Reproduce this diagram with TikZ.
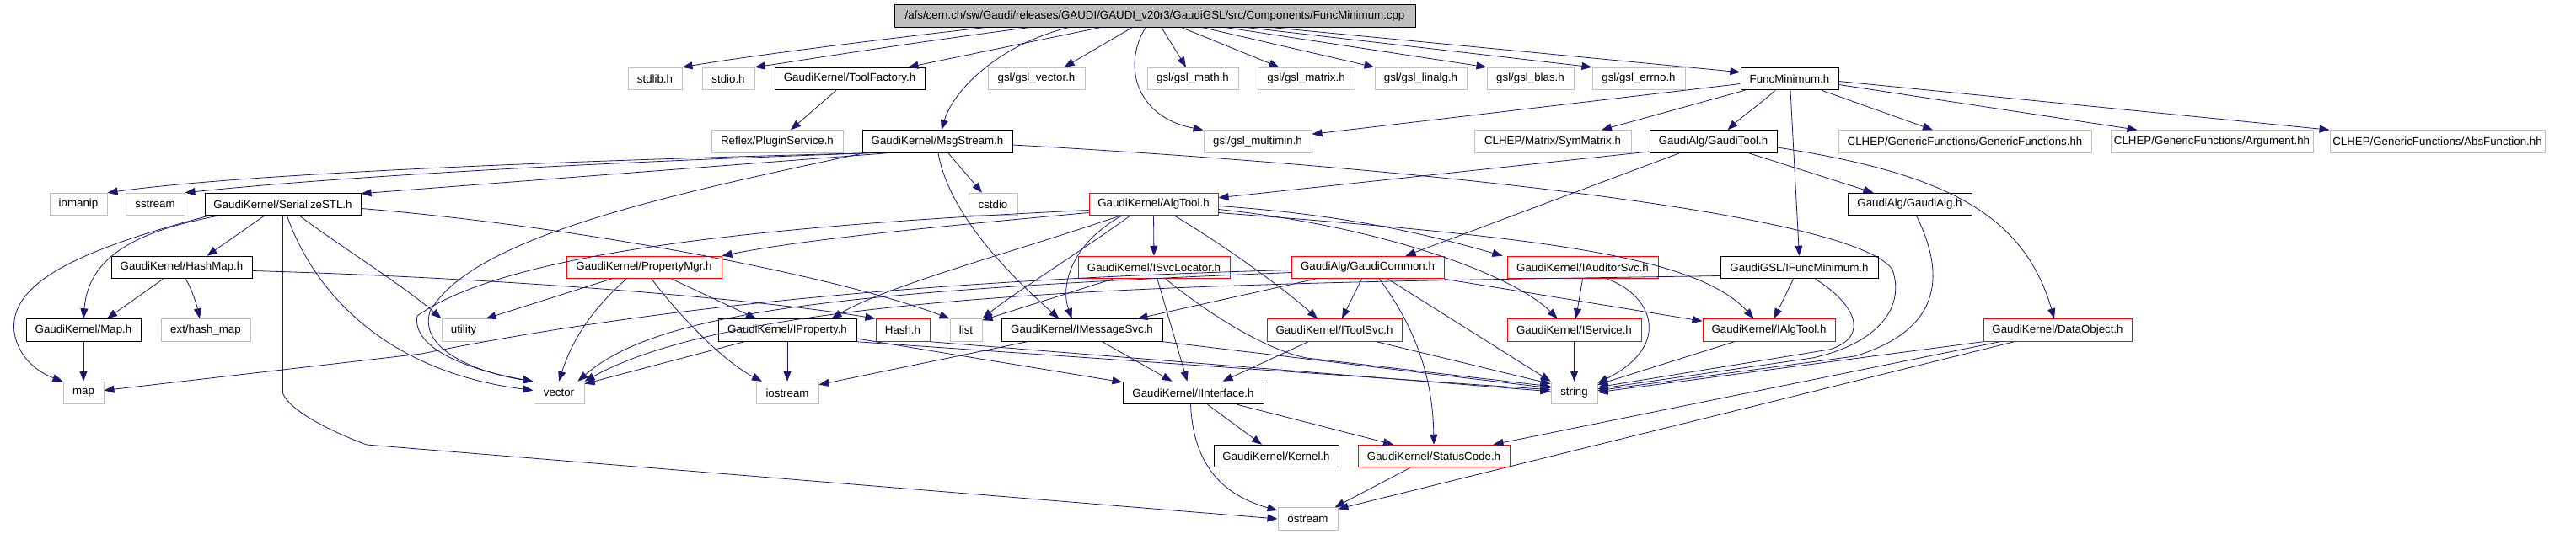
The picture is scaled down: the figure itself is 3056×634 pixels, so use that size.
\documentclass[tikz,border=0pt]{standalone}
\usepackage{fontspec}
\setmainfont{Liberation Sans}
\usetikzlibrary{arrows.meta}
\definecolor{edgec}{HTML}{191970}
\definecolor{grayb}{HTML}{BFBFBF}
\tikzset{
 nbase/.style={rectangle, inner sep=0pt, minimum height=26.5pt, line width=1pt, font=\fontsize{13.3}{16}\selectfont, text=black},
 gbox/.style={nbase, draw=grayb},
 bbox/.style={nbase, draw=black},
 rbox/.style={nbase, draw=red},
 rootbox/.style={nbase, draw=black, fill=grayb},
 dep/.style={draw=edgec, line width=0.8pt, -{Triangle[length=12pt,width=9pt]}},
}
\begin{document}
\begin{tikzpicture}[x=1pt,y=-1pt]
\useasboundingbox (0,0) rectangle (3056,634);
% row 0
\node[rootbox,minimum width=618pt] (root) at (1370,19) {/afs/cern.ch/sw/Gaudi/releases/GAUDI/GAUDI\_v20r3/GaudiGSL/src/Components/FuncMinimum.cpp};
% row 1
\node[gbox,minimum width=64pt] (stdlib) at (777,93.5) {stdlib.h};
\node[gbox,minimum width=62pt] (stdio) at (864,93.5) {stdio.h};
\node[bbox,minimum width=178pt] (toolf) at (1008,93.5) {GaudiKernel/ToolFactory.h};
\node[gbox,minimum width=115pt] (gvec) at (1229.5,93.5) {gsl/gsl\_vector.h};
\node[gbox,minimum width=108pt] (gmath) at (1415,93.5) {gsl/gsl\_math.h};
\node[gbox,minimum width=115pt] (gmatrix) at (1549.5,93.5) {gsl/gsl\_matrix.h};
\node[gbox,minimum width=109pt] (glinalg) at (1685.5,93.5) {gsl/gsl\_linalg.h};
\node[gbox,minimum width=103pt] (gblas) at (1815.5,93.5) {gsl/gsl\_blas.h};
\node[gbox,minimum width=110pt] (gerrno) at (1944,93.5) {gsl/gsl\_errno.h};
\node[bbox,minimum width=116pt] (fminh) at (2123,93.5) {FuncMinimum.h};
% row 2
\node[gbox,minimum width=156pt] (plugin) at (922,168) {Reflex/PluginService.h};
\node[bbox,minimum width=178pt] (msgs) at (1112,168) {GaudiKernel/MsgStream.h};
\node[gbox,minimum width=128pt] (gmulti) at (1492,168) {gsl/gsl\_multimin.h};
\node[gbox,minimum width=186pt] (symm) at (1842,168) {CLHEP/Matrix/SymMatrix.h};
\node[bbox,minimum width=151pt] (gtool) at (2032.5,168) {GaudiAlg/GaudiTool.h};
\node[gbox,minimum width=300pt] (genf) at (2331,168) {CLHEP/GenericFunctions/GenericFunctions.hh};
\node[gbox,minimum width=240pt] (argu) at (2624,168) {CLHEP/GenericFunctions/Argument.hh};
\node[gbox,minimum width=255pt] (absf) at (2891.5,168) {CLHEP/GenericFunctions/AbsFunction.hh};
% row 3
\node[gbox,minimum width=68pt] (iomanip) at (93,242.5) {iomanip};
\node[gbox,minimum width=70pt] (sstream) at (184,242.5) {sstream};
\node[bbox,minimum width=185pt] (sstl) at (335.5,242.5) {GaudiKernel/SerializeSTL.h};
\node[gbox,minimum width=58pt] (cstdio) at (1178,242.5) {cstdio};
\node[rbox,minimum width=153pt] (algtool) at (1368.5,242.5) {GaudiKernel/AlgTool.h};
\node[bbox,minimum width=147pt] (galg) at (2265.5,242.5) {GaudiAlg/GaudiAlg.h};
% row 4
\node[bbox,minimum width=167pt] (hashmap) at (215.5,317.5) {GaudiKernel/HashMap.h};
\node[rbox,minimum width=184pt] (propmgr) at (764,317.5) {GaudiKernel/PropertyMgr.h};
\node[rbox,minimum width=180pt] (svcloc) at (1369,317.5) {GaudiKernel/ISvcLocator.h};
\node[rbox,minimum width=181pt] (gcommon) at (1622.5,317.5) {GaudiAlg/GaudiCommon.h};
\node[rbox,minimum width=179pt] (iaud) at (1877.5,317.5) {GaudiKernel/IAuditorSvc.h};
\node[bbox,minimum width=187pt] (ifmin) at (2134.5,317.5) {GaudiGSL/IFuncMinimum.h};
% row 5
\node[bbox,minimum width=136pt] (maph) at (99,392) {GaudiKernel/Map.h};
\node[gbox,minimum width=106pt] (exthm) at (244,392) {ext/hash\_map};
\node[gbox,minimum width=52pt] (utility) at (550,392) {utility};
\node[bbox,minimum width=164pt] (iprop) at (934,392) {GaudiKernel/IProperty.h};
\node[rbox,minimum width=64pt] (hash) at (1071,392) {Hash.h};
\node[gbox,minimum width=38pt] (list) at (1146,392) {list};
\node[bbox,minimum width=191pt] (imsg) at (1283.5,392) {GaudiKernel/IMessageSvc.h};
\node[rbox,minimum width=160pt] (itool) at (1583,392) {GaudiKernel/IToolSvc.h};
\node[rbox,minimum width=159pt] (iserv) at (1867.5,392) {GaudiKernel/IService.h};
\node[rbox,minimum width=157pt] (ialg) at (2098.5,392) {GaudiKernel/IAlgTool.h};
\node[rbox,minimum width=176pt] (dobj) at (2441,392) {GaudiKernel/DataObject.h};
% row 6
\node[gbox,minimum width=48pt] (map) at (99,466.5) {map};
\node[gbox,minimum width=60pt] (vector) at (663,466.5) {vector};
\node[gbox,minimum width=74pt] (iostream) at (934,466.5) {iostream};
\node[bbox,minimum width=167pt] (iint) at (1415.5,466.5) {GaudiKernel/IInterface.h};
\node[gbox,minimum width=55pt] (string) at (1867.5,466.5) {string};
% row 7
\node[bbox,minimum width=148pt] (kernel) at (1514,541.5) {GaudiKernel/Kernel.h};
\node[rbox,minimum width=180pt] (stcode) at (1701,541.5) {GaudiKernel/StatusCode.h};
% row 8
\node[gbox,minimum width=71pt] (ostream) at (1551.5,616) {ostream};

% ---- edges from root
\draw[dep] ([xshift=-203pt]root.south) .. controls (1000,52) and (880,68) .. (stdlib.north east);
\draw[dep] ([xshift=-150pt]root.south) .. controls (1050,55) and (950,72) .. (stdio.north east);
\draw[dep] ([xshift=-65pt]root.south) -- ([xshift=-20pt]toolf.north east);
\draw[dep] ([xshift=-103pt]root.south) .. controls (1180,55) and (1130,110) .. ([xshift=5pt]msgs.north);
\draw[dep] ([xshift=-27pt]root.south) -- ([xshift=33pt]gvec.north);
\draw[dep] ([xshift=-11pt]root.south) .. controls (1330,80) and (1350,140) .. (gmulti.north west);
\draw[dep] ([xshift=8pt]root.south) -- ([xshift=-8pt]gmath.north);
\draw[dep] ([xshift=32pt]root.south) -- ([xshift=-32pt]gmatrix.north);
\draw[dep] ([xshift=57pt]root.south) -- (glinalg.north west);
\draw[dep] ([xshift=85pt]root.south) -- (gblas.north west);
\draw[dep] ([xshift=110pt]root.south) -- (gerrno.north west);
\draw[dep] ([xshift=140pt]root.south) -- ([yshift=-6pt]fminh.north west);

% ---- FuncMinimum.h
\draw[dep] ([yshift=-6pt]fminh.west) -- ([yshift=-5pt]gmulti.north east);
\draw[dep] ([xshift=-53pt]fminh.south) -- ([xshift=58pt]symm.north);
\draw[dep] ([xshift=-17pt]fminh.south) .. controls (2090,122) and (2065,140) .. ([xshift=17pt]gtool.north);
\draw[dep] ([xshift=1pt]fminh.south) -- (ifmin.north);
\draw[dep] ([xshift=38pt]fminh.south) -- ([xshift=-38pt]genf.north);
\draw[dep] ([yshift=-7pt]fminh.east) -- ([xshift=32pt]argu.north west);
\draw[dep] ([yshift=-3pt]fminh.east) -- (absf.north west);

% ---- ToolFactory
\draw[dep] ([xshift=-16pt]toolf.south) -- ([xshift=16pt]plugin.north);

% ---- MsgStream
\draw[dep] ([xshift=5pt]msgs.south west) .. controls (700,190) and (300,205) .. (iomanip.north east);
\draw[dep] ([xshift=10pt]msgs.south west) .. controls (700,193) and (400,210) .. (sstream.north east);
\draw[dep] ([xshift=30pt]msgs.south west) -- ([yshift=-1pt]sstl.north east);
\draw[dep] ([xshift=13pt]msgs.south) -- ([xshift=-13pt]cstdio.north);
\draw[dep] ([xshift=1pt]msgs.south) .. controls (1125,250) and (1190,320) .. ([xshift=-27pt]imsg.north);
\draw[dep] ([yshift=-4pt]msgs.east) .. controls (1700,200) and (2200,255) .. (2245,320) .. controls (2262,370) and (2220,410) .. (2150,425) -- ([yshift=-9pt]string.north east);
\draw[dep] ([xshift=2pt]msgs.south west) .. controls (800,230) and (560,280) .. (510,370) .. controls (495,420) and (580,445) .. (vector.north west);

% ---- SerializeSTL
\draw[dep] ([xshift=-22pt]sstl.south) -- ([xshift=30pt]hashmap.north);
\draw[dep] ([xshift=-77pt]sstl.south) .. controls (160,275) and (105,305) .. (maph.north);
\draw[dep] ([xshift=-88pt]sstl.south) .. controls (80,300) and (10,340) .. (17,395) .. controls (22,425) and (45,442) .. (map.north west);
\draw[dep] (sstl.south) -- (335.5,467) .. controls (345,490) and (400,515) .. (435,528) -- (ostream.west);
\draw[dep] ([xshift=5pt]sstl.south) .. controls (370,340) and (450,440) .. ([yshift=3pt]vector.west);
\draw[dep] ([xshift=20pt]sstl.south) .. controls (400,290) and (480,340) .. (utility.north west);
\draw[dep] ([yshift=-5pt]sstl.east) .. controls (700,270) and (1000,330) .. (list.north west);

% ---- HashMap
\draw[dep] ([xshift=-22pt]hashmap.south) -- ([xshift=28pt]maph.north);
\draw[dep] ([xshift=5pt]hashmap.south) .. controls (228,345) and (233,360) .. ([xshift=-7pt]exthm.north);
\draw[dep] ([yshift=-4pt]hashmap.east) .. controls (600,330) and (900,355) .. (hash.north west);
\draw[dep] (maph.south) -- (map.north);

% ---- PropertyMgr
\draw[dep] ([xshift=-39pt]propmgr.south) -- (utility.north east);
\draw[dep] ([xshift=-21pt]propmgr.south) .. controls (705,365) and (680,400) .. (vector.north);
\draw[dep] ([xshift=9pt]propmgr.south) .. controls (810,380) and (860,430) .. ([xshift=-30pt]iostream.north);
\draw[dep] ([xshift=33pt]propmgr.south) -- ([xshift=-37pt]iprop.north);

% ---- AlgTool
\draw[dep] ([yshift=-10pt]algtool.west) .. controls (1100,270) and (950,285) .. (propmgr.north east);
\draw[dep] ([yshift=-7pt]algtool.west) .. controls (900,268) and (600,300) .. (495,375) .. controls (488,415) and (560,440) .. (vector.north west);
\draw[dep] ([xshift=-40pt]algtool.south) .. controls (1200,300) and (1050,340) .. ([xshift=-30pt]iprop.north east);
\draw[dep] ([xshift=-28pt]algtool.south) .. controls (1280,300) and (1200,350) .. (list.north east);
\draw[dep] ([xshift=-38pt]algtool.south) .. controls (1270,290) and (1258,340) .. ([xshift=-12pt]imsg.north);
\draw[dep] (algtool.south) -- (svcloc.north);
\draw[dep] ([xshift=25pt]algtool.south) .. controls (1450,290) and (1520,340) .. ([xshift=-20pt]itool.north);
\draw[dep] ([yshift=-2pt]algtool.east) .. controls (1600,255) and (1700,280) .. ([xshift=-5pt]iaud.north west);
\draw[dep] ([yshift=-6pt]algtool.east) .. controls (1650,270) and (1800,330) .. ([xshift=-20pt]iserv.north);
\draw[dep] ([yshift=-10pt]algtool.east) .. controls (1800,280) and (2010,300) .. ([xshift=-18pt]ialg.north);

% ---- GaudiTool
\draw[dep] ([yshift=-12pt]gtool.west) -- ([yshift=-6pt]algtool.north east);
\draw[dep] ([xshift=-40pt]gtool.south) -- ([xshift=45pt]gcommon.north);
\draw[dep] ([xshift=42pt]gtool.south) -- ([xshift=-43pt]galg.north);
\draw[dep] ([yshift=-7pt]gtool.east) .. controls (2300,205) and (2400,250) .. ([xshift=-4pt]dobj.north);

% ---- GaudiAlg
\draw[dep] ([xshift=8pt]galg.south) .. controls (2305,320) and (2310,390) .. (2200,423) -- ([yshift=-11pt]string.north east);

% ---- DataObject
\draw[dep] (dobj.south west) -- ([yshift=-13pt]string.north east);
\draw[dep] ([xshift=20pt]dobj.south west) -- ([xshift=-20pt]stcode.north east);
\draw[dep] ([xshift=37pt]dobj.south west) -- ([yshift=-2pt]ostream.north east);

% ---- IFuncMinimum
\draw[dep] ([xshift=-7pt]ifmin.south) -- ([xshift=6pt]ialg.north);
\draw[dep] ([xshift=19pt]ifmin.south) .. controls (2200,360) and (2220,400) .. (2170,415) -- ([yshift=-7pt]string.north east);
\draw[dep] ([yshift=-10pt]ifmin.west) .. controls (1500,336) and (900,338) .. (vector.north east);

% ---- GaudiCommon
\draw[dep] ([yshift=-3pt]gcommon.west) .. controls (1000,335) and (700,380) .. (500,420) -- ([yshift=3pt]map.east);
\draw[dep] ([yshift=-6pt]gcommon.west) .. controls (1000,345) and (780,370) .. ([xshift=-8pt]vector.north east);
\draw[dep] ([xshift=-62pt]gcommon.south) -- ([xshift=-30pt]imsg.north east);
\draw[dep] ([xshift=-7pt]gcommon.south) -- ([xshift=9pt]itool.north);
\draw[dep] ([xshift=14pt]gcommon.south) .. controls (1680,390) and (1700,450) .. (stcode.north);
\draw[dep] ([xshift=24pt]gcommon.south) -- (string.north west);
\draw[dep] (gcommon.south east) -- ([yshift=-3pt]ialg.north west);

% ---- IAuditorSvc
\draw[dep] (iaud.south) -- ([xshift=2pt]iserv.north);
\draw[dep] ([xshift=29pt]iaud.south) .. controls (1960,350) and (1985,410) .. ([yshift=-2pt]string.north east);

% ---- IService, IAlgTool
\draw[dep] (iserv.south) -- (string.north);
\draw[dep] ([xshift=-41pt]ialg.south) -- ([yshift=-4pt]string.north east);

% ---- IProperty, Hash
\draw[dep] ([xshift=-51pt]iprop.south) -- ([yshift=-3pt]vector.north east);
\draw[dep] (iprop.south) -- (iostream.north);
\draw[dep] ([yshift=-10pt]iprop.east) -- ([yshift=-1pt]iint.north west);
\draw[dep] (iprop.south east) -- ([yshift=-10pt]string.north west);
\draw[dep] (hash.south east) -- ([yshift=-12pt]string.north west);

% ---- IMessageSvc
\draw[dep] ([xshift=-65pt]imsg.south) -- ([yshift=-4pt]iostream.north east);
\draw[dep] ([xshift=24pt]imsg.south) -- ([xshift=-25pt]iint.north);
\draw[dep] (imsg.south east) -- ([yshift=-8pt]string.north west);

% ---- ISvcLocator
\draw[dep] ([xshift=-49pt]svcloc.south) -- ([yshift=-2pt]list.north east);
\draw[dep] ([xshift=4pt]svcloc.south) -- ([xshift=-7pt]iint.north);
\draw[dep] ([xshift=14pt]svcloc.south) .. controls (1430,370) and (1500,415) .. (1550,425) -- ([yshift=-6pt]string.north west);

% ---- IToolSvc
\draw[dep] ([xshift=-31pt]itool.south) -- ([xshift=35pt]iint.north);
\draw[dep] ([xshift=50pt]itool.south) -- ([yshift=-3pt]string.north west);

% ---- IInterface, StatusCode
\draw[dep] ([xshift=-3pt]iint.south) .. controls (1415,540) and (1440,585) .. ([yshift=10pt]ostream.west);
\draw[dep] ([xshift=17pt]iint.south) -- ([xshift=-17pt]kernel.north);
\draw[dep] ([xshift=-32pt]iint.south east) -- ([xshift=-48pt]stcode.north);
\draw[dep] ([xshift=-28pt]stcode.south) -- ([xshift=-4pt]ostream.north east);
\end{tikzpicture}
\end{document}
